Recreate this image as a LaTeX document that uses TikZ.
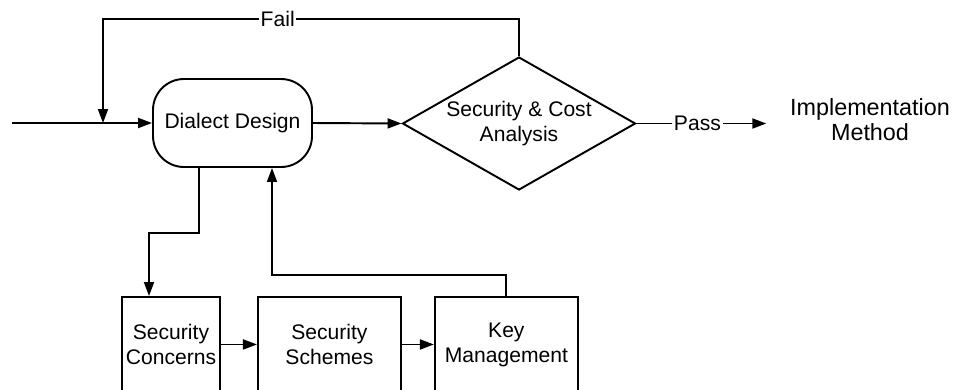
\documentclass[tikz,border=0pt]{standalone}
\usepackage{fontspec}
\setmainfont{Liberation Sans}
\usetikzlibrary{arrows.meta, positioning, shapes.geometric}

\begin{document}
\begin{tikzpicture}[
    line width=1.1pt,
    >={Triangle[length=0.28cm, width=0.2cm]},
    every node/.style={font=\fontsize{12}{14.2}\selectfont},
    process/.style={draw, rounded corners=0.62cm, minimum width=3.18cm, minimum height=1.76cm},
    decision/.style={draw, diamond, aspect=1.75, inner sep=0pt, align=center,
        minimum width=4.66cm, minimum height=2.66cm},
    stepbox/.style={draw, anchor=north, align=center, minimum height=1.9cm},
    flowlabel/.style={fill=white, inner sep=1pt}
]

\useasboundingbox (0,0) rectangle (19.12,7.78);
\clip (0,0) rectangle (19.12,7.78);

% === main loop ===
\coordinate (start) at (0.24,5.32);
\coordinate (failjoin) at (2.06,5.32);
\node[process] (design) at (4.65,5.32) {Dialect Design};
\node[decision] (check) at (10.38,5.31) {Security \& Cost\\Analysis};
\node[align=center, font=\fontsize{13.3}{14.2}\selectfont] (impl) at (17.4,5.38) {Implementation\\Method};

\draw[->] (start) -- (design.west);
\draw[->] (design.east) -- (check.west);
\draw[->] (check.north) -- ++(0,0.74) -| node[flowlabel, pos=0.29] {Fail} (failjoin);
\draw[->, shorten >=0.34cm] (check.east) -- node[flowlabel, pos=0.415] {Pass} (check.east -| impl.west);

% === design steps ===
\node[stepbox, minimum width=1.96cm, inner xsep=0.5pt] (concerns) at (3.42,1.86) {Security\\Concerns};
\node[stepbox, minimum width=2.86cm, right=0.72cm of concerns] (schemes) {Security\\Schemes};
\node[stepbox, minimum width=2.86cm, right=0.64cm of schemes] (keymgmt) {Key\\Management};

\draw[->] (concerns) -- (schemes);
\draw[->] (schemes) -- (keymgmt);
\draw[->] ([xshift=-0.67cm]design.south) -- ++(0,-1.3) -| ([xshift=-0.44cm]concerns.north);
\draw[->] (keymgmt.north) -- ++(0,0.42) -| ([xshift=0.79cm]design.south);

\end{tikzpicture}
\end{document}
